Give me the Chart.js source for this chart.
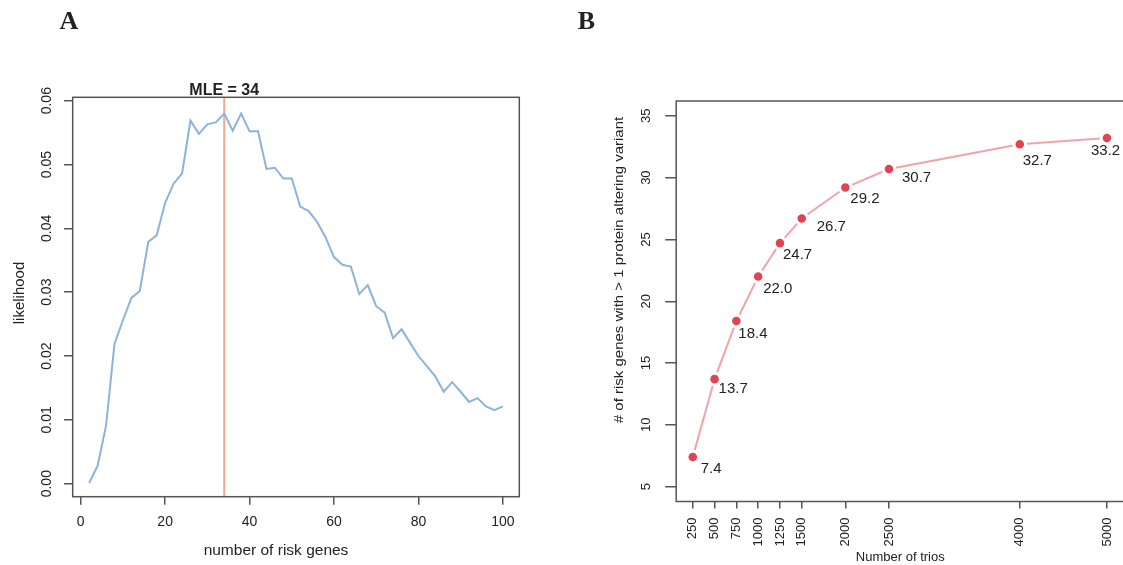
<!DOCTYPE html>
<html>
<head>
<meta charset="utf-8">
<script src="https://cdn.jsdelivr.net/npm/chart.js@4.4.1/dist/chart.umd.min.js"></script>
<style>
  html, body { margin: 0; padding: 0; background: #fff; }
  body { width: 1123px; height: 565px; overflow: hidden; position: relative; }
  .panel { position: absolute; top: 0; }
  #panelA { left: 0; }
  #panelB { left: 560px; }
</style>
</head>
<body>
<div class="panel" id="panelA"><canvas id="chartA" width="560" height="565"></canvas></div>
<div class="panel" id="panelB"><canvas id="chartB" width="570" height="565"></canvas></div>
<script>
// Panel A: likelihood vs number of risk genes
const GENES = [2, 4, 6, 8, 10, 12, 14, 16, 18, 20, 22, 24, 26, 28, 30, 32, 34, 36, 38, 40,
               42, 44, 46, 48, 50, 52, 54, 56, 58, 60, 62, 64, 66, 68, 70, 72, 74, 76, 78, 80,
               82, 84, 86, 88, 90, 92, 94, 96, 98, 100];
const LIKELIHOOD = [0.0001, 0.0028, 0.0091, 0.0219, 0.0256, 0.0291, 0.0302, 0.0379, 0.0389, 0.0440,
                    0.0470, 0.0486, 0.0569, 0.0548, 0.0563, 0.0566, 0.0580, 0.0553, 0.0580, 0.0552,
                    0.0552, 0.0493, 0.0495, 0.0478, 0.0478, 0.0434, 0.0427, 0.0410, 0.0386, 0.0355,
                    0.0343, 0.0340, 0.0297, 0.0311, 0.0278, 0.0268, 0.0228, 0.0242, 0.0221, 0.0200,
                    0.0184, 0.0168, 0.0144, 0.0159, 0.0144, 0.0128, 0.0134, 0.0121, 0.0115, 0.0121];
const MLE = 34;
const A_X_TICKS = [0, 20, 40, 60, 80, 100];
const A_Y_TICKS = [0, 0.01, 0.02, 0.03, 0.04, 0.05, 0.06];

// Panel B: risk genes vs number of trios
const TRIOS = [250, 500, 750, 1000, 1250, 1500, 2000, 2500, 4000, 5000];
const RISK_GENES = [7.4, 13.7, 18.4, 22.0, 24.7, 26.7, 29.2, 30.7, 32.7, 33.2];
const B_Y_TICKS = [5, 10, 15, 20, 25, 30, 35];

// label nudges (px) for the value labels in B
const LABEL_DX = [8, 4, 2, 5, 3, 15, 5, 13, 3, -16];
const LABEL_DY = [12, 10, 13, 12, 12, 8, 11, 9, 17, 13];

const SANS = "'Liberation Sans', Arial, Helvetica, sans-serif";
const SERIF = "'Liberation Serif', 'Times New Roman', serif";
const AXIS_COL = '#555';
const TEXT_COL = '#222';

Chart.defaults.font.family = SANS;
Chart.defaults.color = TEXT_COL;

function rotText(ctx, txt, x, y, stretch) {
    ctx.save();
    ctx.translate(x, y);
    ctx.rotate(-Math.PI / 2);
    if (stretch) ctx.scale(stretch, 1);
    ctx.textAlign = 'center';
    ctx.textBaseline = 'middle';
    ctx.fillText(txt, 0, 0);
    ctx.restore();
}

const rBox = {
    id: 'rBox',
    afterDraw(chart) {
        const { ctx, chartArea: a } = chart;
        ctx.save();
        ctx.strokeStyle = AXIS_COL;
        ctx.lineWidth = 1.5;
        ctx.strokeRect(a.left, a.top, a.right - a.left, a.bottom - a.top);
        ctx.restore();
    }
};

function tickGrid(len) {
    return { drawOnChartArea: false, drawTicks: true, tickLength: len, color: AXIS_COL, lineWidth: 1.5 };
}

// fixed axis sizes, and no extra room for label overhang
function fixSize(prop, val) {
    return s => {
        s[prop] = val;
        s.paddingLeft = s.paddingRight = s.paddingTop = s.paddingBottom = 0;
    };
}

// ---------- Panel A ----------
const textA = {
    id: 'textA',
    beforeDatasetsDraw(chart) {
        const { ctx, chartArea: a, scales: { x } } = chart;
        const mx = x.getPixelForValue(MLE);
        ctx.save();
        ctx.strokeStyle = '#f7a88f';
        ctx.lineWidth = 2;
        ctx.beginPath();
        ctx.moveTo(mx, a.top);
        ctx.lineTo(mx, a.bottom);
        ctx.stroke();
        ctx.restore();
    },
    afterDraw(chart) {
        const { ctx, scales: { x, y } } = chart;
        ctx.save();
        ctx.fillStyle = TEXT_COL;
        ctx.font = '14px ' + SANS;
        y.ticks.forEach(t => rotText(ctx, t.value.toFixed(2), 46.7, y.getPixelForValue(t.value)));
        ctx.font = '15px ' + SANS;
        rotText(ctx, 'likelihood', 20, 293);
        ctx.textAlign = 'center';
        ctx.textBaseline = 'middle';
        ctx.font = '15.5px ' + SANS;
        ctx.fillText('number of risk genes', 276, 551);
        ctx.font = 'bold 16px ' + SANS;
        ctx.textBaseline = 'alphabetic';
        ctx.fillText('MLE = ' + MLE, x.getPixelForValue(MLE), 95);
        ctx.font = 'bold 26px ' + SERIF;
        ctx.fillText('A', 69, 29);
        ctx.restore();
    }
};

new Chart(document.getElementById('chartA'), {
    type: 'line',
    data: {
        datasets: [{
            data: GENES.map((g, i) => ({ x: g, y: LIKELIHOOD[i] })),
            borderColor: '#8db3da',
            borderWidth: 2,
            pointRadius: 0,
            tension: 0,
            fill: false
        }]
    },
    options: {
        responsive: false,
        animation: false,
        events: [],
        layout: { autoPadding: false, padding: { left: 0, top: 97.3, right: 40.7, bottom: 0 } },
        plugins: { legend: { display: false }, tooltip: { enabled: false } },
        scales: {
            x: {
                type: 'linear', min: -1.9, max: 103.9,
                afterBuildTicks: s => { s.ticks = A_X_TICKS.map(v => ({ value: v })); },
                afterFit: fixSize('height', 68.3),
                grid: tickGrid(8),
                border: { display: false },
                ticks: { font: { size: 14 }, color: TEXT_COL, padding: 9, minRotation: 0, maxRotation: 0, autoSkip: false }
            },
            y: {
                type: 'linear', min: -0.00204, max: 0.06053,
                afterBuildTicks: s => { s.ticks = A_Y_TICKS.map(v => ({ value: v })); },
                afterFit: fixSize('width', 72.7),
                grid: tickGrid(8.7),
                border: { display: false },
                ticks: { display: false }
            }
        }
    },
    plugins: [textA, rBox]
});

// ---------- Panel B ----------
const textB = {
    id: 'textB',
    afterDraw(chart) {
        const { ctx, chartArea: a, scales: { y } } = chart;
        const meta = chart.getDatasetMeta(0);
        ctx.save();
        ctx.fillStyle = TEXT_COL;
        ctx.font = '15px ' + SANS;
        ctx.textAlign = 'left';
        ctx.textBaseline = 'middle';
        meta.data.forEach((p, i) => {
            ctx.fillText(RISK_GENES[i].toFixed(1), p.x + LABEL_DX[i], p.y + LABEL_DY[i]);
        });
        ctx.font = '13px ' + SANS;
        y.ticks.forEach(t => rotText(ctx, String(t.value), 86.7, y.getPixelForValue(t.value)));
        ctx.font = '12.5px ' + SANS;
        rotText(ctx, '# of risk genes with > 1 protein altering variant', 60, 270, 1.2);
        ctx.font = '13px ' + SANS;
        ctx.textAlign = 'center';
        ctx.fillText('Number of trios', (a.left + a.right) / 2, 557);
        ctx.font = 'bold 26px ' + SERIF;
        ctx.textBaseline = 'alphabetic';
        ctx.fillText('B', 26.5, 29);
        ctx.restore();
    }
};

new Chart(document.getElementById('chartB'), {
    type: 'line',
    data: {
        datasets: [{
            data: TRIOS.map((t, i) => ({ x: t, y: RISK_GENES[i] })),
            borderColor: '#f2a3aa',
            borderWidth: 2,
            // white ring leaves the small gap round each point, as in type "b"
            pointRadius: 5.8,
            pointBackgroundColor: '#e0444f',
            pointBorderColor: '#ffffff',
            pointBorderWidth: 3,
            tension: 0,
            fill: false
        }]
    },
    options: {
        responsive: false,
        animation: false,
        events: [],
        layout: { autoPadding: false, padding: { left: 0, top: 101, right: 5.6, bottom: 0 } },
        plugins: { legend: { display: false }, tooltip: { enabled: false } },
        scales: {
            x: {
                type: 'linear', min: 60, max: 5200,
                afterBuildTicks: s => { s.ticks = TRIOS.map(v => ({ value: v })); },
                afterFit: fixSize('height', 63.5),
                grid: tickGrid(7),
                border: { display: false },
                ticks: {
                    font: { size: 13 }, color: TEXT_COL, padding: 9,
                    minRotation: 90, maxRotation: 90, autoSkip: false,
                    callback: v => String(v)
                }
            },
            y: {
                type: 'linear', min: 3.8, max: 36.2,
                afterBuildTicks: s => { s.ticks = B_Y_TICKS.map(v => ({ value: v })); },
                afterFit: fixSize('width', 116.2),
                grid: tickGrid(11),
                border: { display: false },
                ticks: { display: false }
            }
        }
    },
    plugins: [textB, rBox]
});
</script>
</body>
</html>
